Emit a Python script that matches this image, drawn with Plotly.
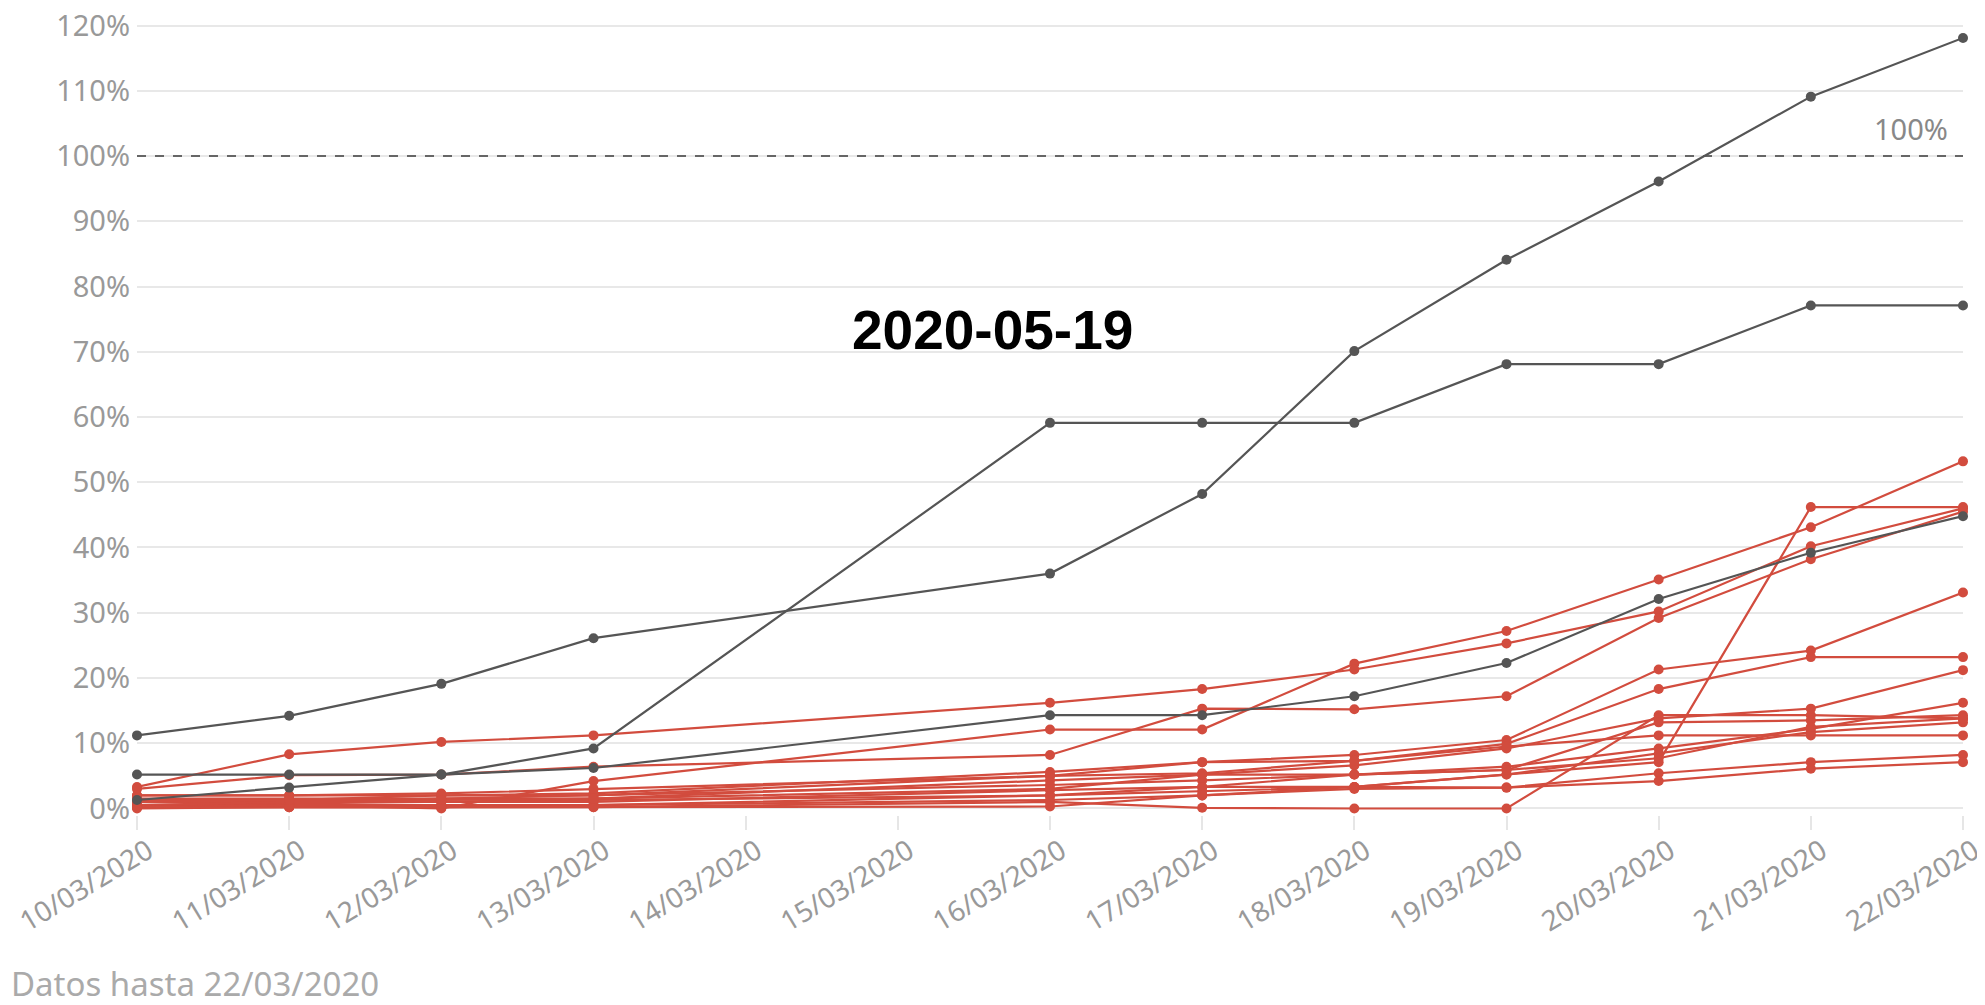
import plotly.graph_objects as go

dates = ["2020-03-10", "2020-03-11", "2020-03-12", "2020-03-13", "2020-03-16",
         "2020-03-17", "2020-03-18", "2020-03-19", "2020-03-20", "2020-03-21", "2020-03-22"]

tick_dates = ["2020-03-%02d" % d for d in range(10, 23)]
tick_labels = ["%02d/03/2020" % d for d in range(10, 23)]
y_ticks = list(range(0, 121, 10))
y_labels = ["%d%%" % v for v in y_ticks]

# dark grey series
gray_a = [11.2, 14.2, 19.1, 26.1, 36.0, 48.2, 70.1, 84.1, 96.1, 109.1, 118.1]
gray_b = [1.3, 3.2, 5.2, 9.2, 59.1, 59.1, 59.1, 68.1, 68.1, 77.1, 77.1]
gray_c = [5.2, 5.2, 5.2, 6.2, 14.3, 14.3, 17.2, 22.3, 32.1, 39.2, 44.8]

# red series
red_01 = [0.5, 0.5, 0.0, 4.2, 12.1, 12.1, 22.2, 27.2, 35.1, 43.1, 53.2]
red_02 = [3.3, 8.3, 10.2, 11.2, 16.2, 18.3, 21.3, 25.3, 30.2, 40.2, 46.0]
red_03 = [3.0, 5.1, 5.2, 6.4, 8.2, 15.3, 15.2, 17.2, 29.2, 38.2, 45.5]
red_04 = [0.5, 0.8, 1.0, 1.3, 2.0, 3.3, 3.3, 5.2, 7.1, 46.2, 46.2]
red_05 = [0.2, 0.2, 0.2, 0.2, 1.0, 0.1, 0.0, 0.0, 14.3, 14.3, 13.8]
red_06 = [1.0, 1.3, 2.0, 2.3, 5.6, 7.1, 8.2, 10.5, 21.3, 24.2, 33.1]
red_07 = [2.0, 2.0, 2.0, 2.0, 5.0, 5.4, 7.3, 9.9, 18.3, 23.2, 23.2]
red_08 = [1.5, 1.5, 1.5, 1.5, 4.3, 5.2, 6.6, 9.2, 13.8, 15.3, 21.2]
red_09 = [1.0, 1.0, 1.5, 2.0, 3.6, 4.3, 5.2, 6.4, 9.2, 12.2, 16.2]
red_10 = [0.5, 1.0, 1.0, 1.0, 2.8, 3.3, 5.2, 5.9, 13.2, 13.5, 14.3]
red_11 = [0.2, 0.5, 0.5, 0.5, 2.0, 2.6, 3.3, 5.2, 8.4, 11.7, 13.2]
red_12 = [2.0, 2.0, 2.3, 3.0, 5.0, 7.1, 7.3, 9.5, 11.2, 11.2, 11.2]
red_13 = [0.2, 0.2, 0.2, 0.5, 1.3, 2.0, 3.3, 3.2, 5.4, 7.1, 8.2]
red_14 = [0.0, 0.2, 0.2, 0.2, 0.3, 2.0, 3.0, 3.2, 4.2, 6.1, 7.1]
red_15 = [1.3, 1.3, 1.3, 1.5, 3.0, 5.2, 5.2, 5.9, 7.7, 12.5, 13.8]

gray_series = [gray_a, gray_b, gray_c]
red_series = [red_01, red_02, red_03, red_04, red_05, red_06, red_07, red_08,
              red_09, red_10, red_11, red_12, red_13, red_14, red_15]

reference_level = 100

RED = "#d24c3e"
GRAY = "#555555"
FONT = "Noto Sans"

fig = go.Figure()

# dashed 100% reference line
fig.add_trace(go.Scatter(
    x=[tick_dates[0], tick_dates[-1]], y=[reference_level, reference_level],
    mode="lines", line=dict(color="#666666", width=2, dash="dash"),
    hoverinfo="skip", showlegend=False
))

for vals in red_series:
    fig.add_trace(go.Scatter(
        x=dates, y=vals, mode="lines+markers",
        line=dict(color=RED, width=2.2),
        marker=dict(color=RED, size=10),
        cliponaxis=False, showlegend=False
    ))

for vals in gray_series:
    fig.add_trace(go.Scatter(
        x=dates, y=vals, mode="lines+markers",
        line=dict(color=GRAY, width=2.2),
        marker=dict(color=GRAY, size=10),
        cliponaxis=False, showlegend=False
    ))

fig.add_annotation(text="100%", xref="paper", x=0.993, xanchor="right",
                   yref="y", y=104.2, showarrow=False,
                   font=dict(family=FONT, size=29, color="#888888"))

fig.add_annotation(text="<b>2020-05-19</b>", xref="paper", x=0.4685, xanchor="center",
                   yref="y", y=73.3, showarrow=False,
                   font=dict(family="Liberation Sans, Arial", size=55, color="black"))

fig.add_annotation(text="Datos hasta 22/03/2020", xref="paper", x=-0.07, xanchor="left",
                   yref="paper", y=-0.2123, yanchor="middle", showarrow=False,
                   font=dict(family=FONT, size=33, color="#aaaaaa"))

fig.update_layout(
    width=1985, height=1005,
    margin=dict(l=129, r=30, t=11, b=198, autoexpand=False),
    paper_bgcolor="white", plot_bgcolor="white",
    font=dict(family=FONT, color="#999999"),
    xaxis=dict(
        type="date", automargin=False, ticklabeloverflow="allow",
        range=["2020-03-10", "2020-03-22"],
        tickvals=tick_dates, ticktext=tick_labels,
        tickangle=-31, tickfont=dict(size=28, color="#999999"),
        ticklabelshift=11, ticklabelstandoff=-6,
        showgrid=False, zeroline=False, showline=False,
        ticks="outside", ticklen=14, tickwidth=2, tickcolor="#e6e6e6",
    ),
    yaxis=dict(
        automargin=False, ticklabeloverflow="allow",
        range=[-1, 121],
        tickvals=y_ticks, ticktext=y_labels,
        tickfont=dict(size=29, color="#999999"),
        showgrid=True, gridcolor="#e8e8e8", gridwidth=2,
        zeroline=False, showline=False, ticks="", ticklabelstandoff=6,
    ),
)

fig.write_html("out.html")
